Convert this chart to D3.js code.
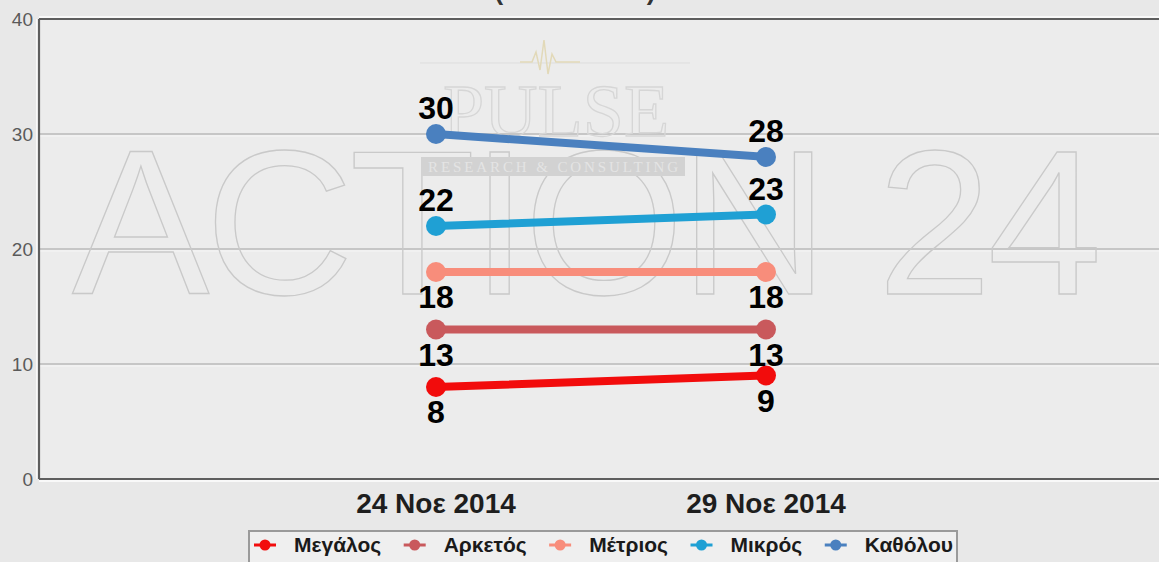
<!DOCTYPE html>
<html>
<head>
<meta charset="utf-8">
<script src="https://cdn.jsdelivr.net/npm/d3@7"></script>
<style>
  html, body { margin: 0; padding: 0; background: #e8e8e8; }
  svg { display: block; font-family: "Liberation Sans", Arial, sans-serif; }
</style>
</head>
<body>
<div id="chart"></div>
<script>
// Data
const dates = ["24 Νοε 2014", "29 Νοε 2014"];
const seriesNames = ["Μεγάλος", "Αρκετός", "Μέτριος", "Μικρός", "Καθόλου"];
const megalos = [8, 9];
const arketos = [13, 13];
const metrios = [18, 18];
const mikros = [22, 23];
const katholou = [30, 28];
const yTicks = [0, 10, 20, 30, 40];
const colors = ["#f20c0c", "#c9595c", "#f88d7b", "#1fa0d4", "#4a80bf"];
const labelAbove = [false, false, false, true, true];

const values = [megalos, arketos, metrios, mikros, katholou];

const width = 1159, height = 562;
const plotLeft = 39, plotTop = 19, plotBottom = 479;

const svg = d3.select('#chart')
    .append('svg')
    .attr('width', width)
    .attr('height', height);

// background
svg.append('rect').attr('width', width).attr('height', height).attr('fill', '#e8e8e8');
svg.append('rect')
   .attr('x', plotLeft).attr('y', plotTop)
   .attr('width', width - plotLeft).attr('height', plotBottom - plotTop)
   .attr('fill', '#ececec');

const x = d3.scalePoint().domain(dates).range([436, 766]);
const y = d3.scaleLinear().domain([0, 40]).range([plotBottom, plotTop]);

// grid lines (gray + light highlight under it)
const inner = yTicks.filter(d => d > 0 && d < 40);
const grid = svg.append('g');
grid.selectAll('line.g1')
    .data(inner)
    .enter().append('line')
    .attr('x1', plotLeft).attr('x2', width)
    .attr('y1', d => y(d)).attr('y2', d => y(d))
    .attr('stroke', '#c6c6c6').attr('stroke-width', 2);
grid.selectAll('line.g2')
    .data(inner)
    .enter().append('line')
    .attr('x1', plotLeft).attr('x2', width)
    .attr('y1', d => y(d) + 2).attr('y2', d => y(d) + 2)
    .attr('stroke', '#f6f6f6').attr('stroke-width', 1);

// watermark
const wm = svg.append('g').attr('fill', 'none').attr('stroke', '#c9c9c9').attr('stroke-width', 1.3);
wm.append('text')
  .attr('x', 72).attr('y', 294)
  .attr('textLength', 1030).attr('lengthAdjust', 'spacing')
  .attr('font-size', 206)
  .text('ACTION 24');
wm.append('text')
  .attr('x', 556).attr('y', 136)
  .attr('text-anchor', 'middle')
  .attr('font-family', '"Liberation Serif", serif')
  .attr('font-size', 74)
  .attr('stroke', '#d6d6d6')
  .text('PULSE');
svg.append('line')
  .attr('x1', 420).attr('x2', 690).attr('y1', 63).attr('y2', 63)
  .attr('stroke', '#dddddd').attr('stroke-width', 1);
svg.append('path')
  .attr('d', 'M520,62 L532,62 L536,52 L540,70 L544,40 L548,74 L552,54 L556,62 L580,62')
  .attr('fill', 'none').attr('stroke', '#e2d9b8').attr('stroke-width', 1.5);
svg.append('rect')
  .attr('x', 421).attr('y', 157).attr('width', 264).attr('height', 19)
  .attr('fill', '#d2d2d2');
svg.append('text')
  .attr('x', 553).attr('y', 172)
  .attr('text-anchor', 'middle')
  .attr('font-family', '"Liberation Serif", serif')
  .attr('font-size', 15)
  .attr('fill', '#e4e4e4')
  .attr('textLength', 250)
  .text('RESEARCH & CONSULTING');

// frame: top, bottom, left
function frameLine(x1, y1, x2, y2, dx, dy) {
    svg.append('line').attr('x1', x1 + dx).attr('y1', y1 + dy).attr('x2', x2 + dx).attr('y2', y2 + dy)
       .attr('stroke', '#ffffff').attr('stroke-width', 1.5);
    svg.append('line').attr('x1', x1).attr('y1', y1).attr('x2', x2).attr('y2', y2)
       .attr('stroke', '#5e5e5e').attr('stroke-width', 2.2);
}
frameLine(plotLeft, plotTop, width, plotTop, 0, -2);
frameLine(plotLeft, plotBottom, width, plotBottom, 0, 2);
frameLine(plotLeft, plotTop, plotLeft, plotBottom, -2, 0);

// title (mostly cut at top)
svg.append('text')
   .attr('x', 575).attr('y', 0)
   .attr('text-anchor', 'middle')
   .attr('font-size', 26).attr('font-weight', 'bold')
   .attr('fill', '#333')
   .text('(ποσοστά %)');

// y axis labels
svg.append('g').selectAll('text')
   .data(yTicks)
   .enter().append('text')
   .attr('x', 33)
   .attr('y', d => y(d))
   .attr('dy', '0.36em')
   .attr('text-anchor', 'end')
   .attr('font-size', 19)
   .attr('fill', '#5a5a5a')
   .text(d => d);

// x axis labels
svg.append('g').selectAll('text')
   .data(dates)
   .enter().append('text')
   .attr('x', d => x(d))
   .attr('y', 513)
   .attr('text-anchor', 'middle')
   .attr('font-size', 28).attr('font-weight', 'bold')
   .attr('fill', '#1e1e1e')
   .text(d => d);

// series
const line = d3.line().x((d, i) => x(dates[i])).y(d => y(d));
const series = svg.selectAll('g.series')
    .data(values)
    .enter().append('g')
    .attr('class', 'series');

series.append('path')
    .attr('d', d => line(d))
    .attr('fill', 'none')
    .attr('stroke', (d, i) => colors[i])
    .attr('stroke-width', 8)
    .attr('stroke-linecap', 'round');

series.each(function(vals, si) {
    d3.select(this).selectAll('circle')
      .data(vals)
      .enter().append('circle')
      .attr('cx', (d, i) => x(dates[i]))
      .attr('cy', d => y(d))
      .attr('r', 10)
      .attr('fill', colors[si]);
});

// data labels drawn last, on top
series.each(function(vals, si) {
    d3.select(this).selectAll('text')
      .data(vals)
      .enter().append('text')
      .attr('x', (d, i) => x(dates[i]))
      .attr('y', d => labelAbove[si] ? y(d) - 15 : y(d) + 36)
      .attr('text-anchor', 'middle')
      .attr('font-size', 32).attr('font-weight', 'bold')
      .attr('fill', '#000')
      .text(d => d);
});

// legend
const legend = svg.append('g');
legend.append('rect')
    .attr('x', 249).attr('y', 531)
    .attr('width', 708).attr('height', 40)
    .attr('fill', '#efefef')
    .attr('stroke', '#9a9a9a').attr('stroke-width', 2);

const items = legend.selectAll('g.item')
    .data(seriesNames)
    .enter().append('g')
    .attr('class', 'item');

const legendTexts = items.append('text')
    .attr('y', 552)
    .attr('font-size', 21).attr('font-weight', 'bold')
    .attr('fill', '#1a1a1a')
    .text(d => d);

// spread the items over the box like in the picture
const textW = [];
legendTexts.each(function() { textW.push(this.getComputedTextLength()); });
const startX = 265, endX = 953, textOffset = 29;
const gap = (endX - startX - d3.sum(textW) - textOffset * seriesNames.length) / (seriesNames.length - 1);
let cur = startX;
const markerX = [];
textW.forEach(w => { markerX.push(cur); cur += textOffset + w + gap; });

legendTexts.attr('x', (d, i) => markerX[i] + textOffset);
items.append('line')
    .attr('x1', (d, i) => markerX[i] - 11).attr('x2', (d, i) => markerX[i] + 11)
    .attr('y1', 545).attr('y2', 545)
    .attr('stroke', (d, i) => colors[i]).attr('stroke-width', 3);
items.append('circle')
    .attr('cx', (d, i) => markerX[i]).attr('cy', 545)
    .attr('r', 5.5)
    .attr('fill', (d, i) => colors[i]);
</script>
</body>
</html>
